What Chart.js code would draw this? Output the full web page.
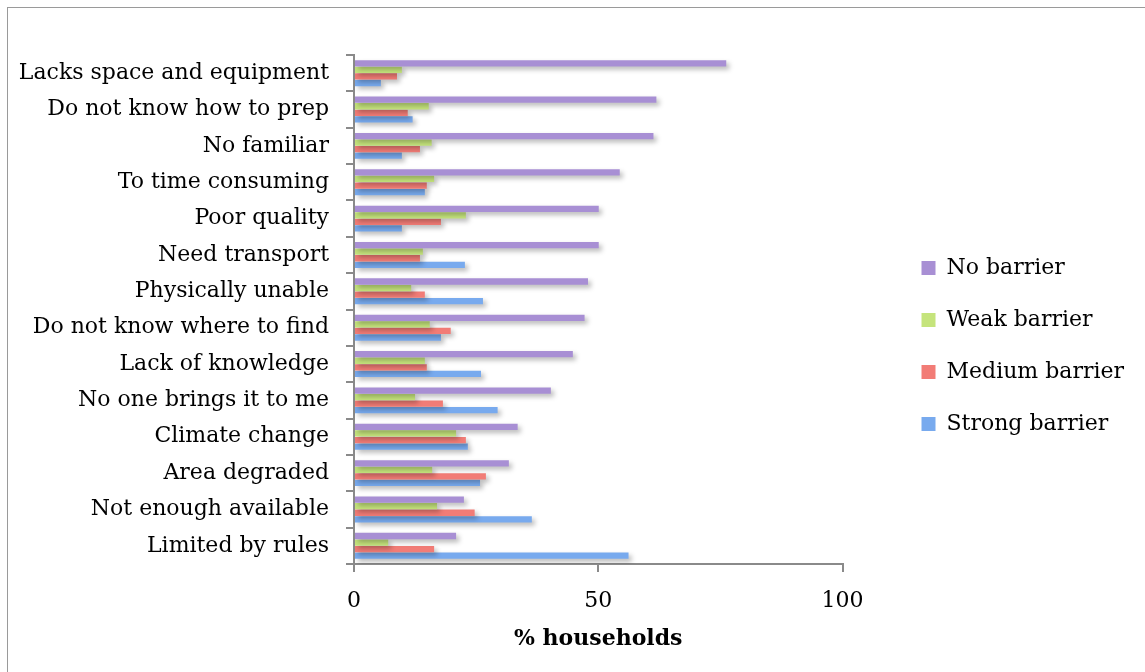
<!DOCTYPE html>
<html>
<head>
<meta charset="utf-8">
<script src="https://cdn.jsdelivr.net/npm/chart.js@4"></script>
<style>
  body { margin: 0; background: #fff; overflow: hidden; }
  #frame { position: absolute; left: 7px; top: 7px; width: 1200px; height: 720px; border: 1px solid #9a9a9a; }
  #wrap { position: absolute; left: 0; top: 0; width: 1145px; height: 672px; }
</style>
</head>
<body>
<div id="frame"></div>
<div id="wrap"><canvas id="barrierChart" width="1145" height="672"></canvas></div>
<script>
// categories, top to bottom
var categories = [
  "Lacks space and equipment",
  "Do not know how to prep",
  "No familiar",
  "To time consuming",
  "Poor quality",
  "Need transport",
  "Physically unable",
  "Do not know where to find",
  "Lack of knowledge",
  "No one brings it to me",
  "Climate change",
  "Area degraded",
  "Not enough available",
  "Limited by rules"
];

// % households per barrier level
var noBarrier     = [76.2, 61.9, 61.3, 54.4, 50.1, 50.1, 47.9, 47.2, 44.8, 40.3, 33.5, 31.7, 22.5, 20.9];
var weakBarrier   = [9.8, 15.3, 15.9, 16.4, 22.9, 14.1, 11.7, 15.5, 14.5, 12.5, 20.9, 16.0, 17.0, 7.0];
var mediumBarrier = [8.8, 11.0, 13.5, 14.9, 17.8, 13.5, 14.5, 19.8, 14.9, 18.2, 22.9, 27.0, 24.7, 16.4];
var strongBarrier = [5.5, 12.0, 9.8, 14.5, 9.8, 22.7, 26.4, 17.8, 26.0, 29.4, 23.3, 25.8, 36.4, 56.2];

var xTicks = [0, 50, 100];
var axisTitle = "% households";

var FONT = "'DejaVu Serif', serif";
var axisGray = "#8a8a8a";

//soft drop shadow under the bars
var barShadow = {
  id: "barShadow",
  beforeDatasetsDraw: function (chart) {
    var c = chart.ctx;
    c.save();
    c.shadowColor = "rgba(0,0,0,0.28)";
    c.shadowBlur = 5;
    c.shadowOffsetX = 3;
    c.shadowOffsetY = 3;
  },
  afterDatasetsDraw: function (chart) {
    chart.ctx.restore();
  }
};

new Chart("barrierChart", {
  type: "bar",
  data: {
    labels: categories,
    datasets: [
      { label: "No barrier", data: noBarrier, backgroundColor: "#a88fd4" },
      { label: "Weak barrier", data: weakBarrier, backgroundColor: "#c5e47c" },
      { label: "Medium barrier", data: mediumBarrier, backgroundColor: "#f27c76" },
      { label: "Strong barrier", data: strongBarrier, backgroundColor: "#78aaee" }
    ]
  },
  options: {
    indexAxis: "y",
    responsive: false,
    animation: false,
    datasets: { bar: { categoryPercentage: 0.72, barPercentage: 0.96 } },
    layout: { padding: { left: 0, top: 55, right: 11, bottom: 35 } },
    plugins: {
      tooltip: { enabled: false },
      legend: {
        position: "right",
        maxWidth: 320,
        labels: {
          font: { family: FONT, size: 22 },
          color: "#000",
          boxWidth: 14,
          boxHeight: 14,
          padding: 30
        }
      }
    },
    scales: {
      x: {
        min: 0,
        max: 100,
        afterBuildTicks: function (s) { s.ticks = xTicks.map(function (v) { return { value: v }; }); },
        grid: { drawOnChartArea: false, drawTicks: true, tickLength: 8, color: axisGray, lineWidth: 2 },
        border: { color: axisGray, width: 2 },
        ticks: { font: { family: FONT, size: 22 }, color: "#000", padding: 16 },
        title: { display: true, text: axisTitle, font: { family: FONT, size: 22, weight: "bold" }, color: "#000", padding: { top: 0, bottom: -15 } },
        afterFit: function (s) { s.height = 73; }
      },
      y: {
        grid: { drawOnChartArea: false, drawTicks: true, tickLength: 8, color: axisGray, lineWidth: 2, offset: true },
        border: { color: axisGray, width: 2 },
        ticks: { font: { family: FONT, size: 22 }, color: "#000", padding: 17, autoSkip: false },
        afterFit: function (s) { s.width = 354; }
      },
      //empty spacer between the plot and the legend
      spacer: {
        type: "category",
        axis: "y",
        position: "right",
        labels: categories,
        grid: { display: false },
        border: { display: false },
        ticks: { display: false },
        afterFit: function (s) { s.width = 49; }
      }
    }
  },
  plugins: [barShadow]
});
</script>
</body>
</html>
